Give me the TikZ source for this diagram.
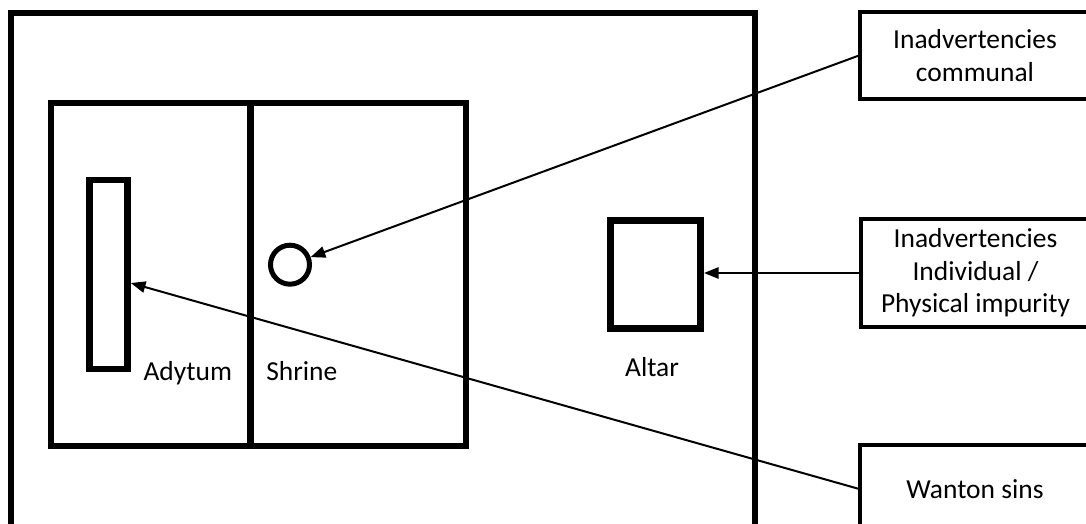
\documentclass[tikz,border=0pt]{standalone}
\usepackage{fontspec}
\setmainfont{Carlito}
\usetikzlibrary{arrows.meta}
\begin{document}
\begin{tikzpicture}[x=0.75pt,y=-0.75pt,
  heavy/.style={line width=4.5pt},
  txt/.style={font=\fontsize{20.6}{24.5}\selectfont},
  labelbox/.style={draw, line width=3pt, minimum width=172pt, align=center,
    inner sep=0pt, txt},
  caption/.style={inner sep=0pt, txt},
  pointer/.style={line width=1.5pt, -{Triangle[length=11pt,width=8.5pt]}}]
\clip (0,0) rectangle (1086,524);

% temple court, building and the wall between adytum and shrine
\draw[heavy] (11,13) rectangle (755,545);
\draw[heavy] (51,103) rectangle (465.7,446.3);
\draw[line width=4.9pt] (250.5,103) -- (250.5,446.3);

% furniture
\node[draw, line width=5pt, minimum width=28.5pt, minimum height=141.75pt,
      inner sep=0pt] (ark) at (108.5,274.5) {};
\node[draw, circle, line width=3.75pt, minimum size=29.25pt, inner sep=0pt]
      (lamp) at (290,264.7) {};
\node[draw, line width=5pt, minimum width=67.5pt, minimum height=81pt,
      inner sep=0pt] (altar) at (655.7,274.7) {};

% room captions
\node[caption, anchor=base west] (adytum) at (143.3,380.7) {Adytum};
\node[caption, anchor=base west] (shrine) at (266,380.7) {Shrine};
\node[caption, anchor=base] (altarlbl) at (652,376.7) {Altar};

% categories of offence
\node[labelbox, minimum height=65.6pt] (communal) at (975,55.75)
      {Inadvertencies\\communal};
\node[labelbox, minimum height=81pt] (individual) at (975.5,273)
      {Inadvertencies\\Individual /\\Physical impurity};
\node[labelbox, minimum height=65.6pt] (wanton) at (975,488.75)
      {Wanton sins};

% where each kind of impurity reaches
\draw[pointer] (communal.west) -- (lamp);
\draw[pointer] (individual.west) -- (individual.west -| altar.east);
\draw[pointer] (wanton.west) -- ([yshift=-6.4pt]ark.east);
\end{tikzpicture}
\end{document}
